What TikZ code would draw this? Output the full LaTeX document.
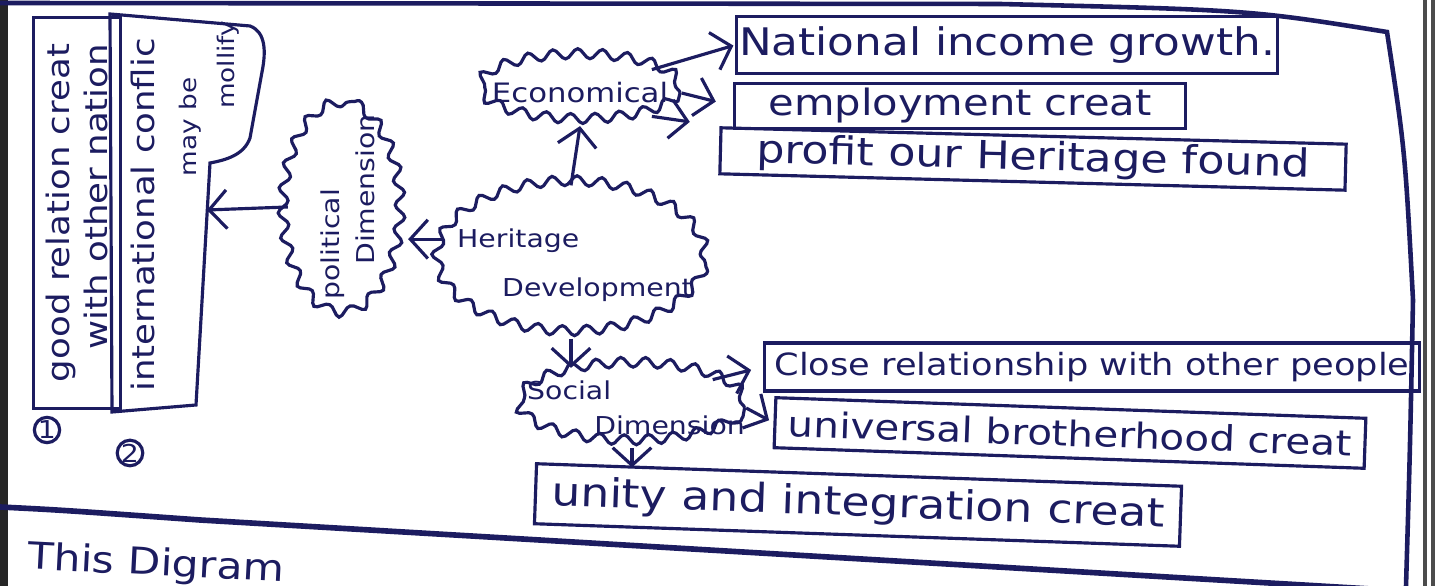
\documentclass[tikz,border=0pt]{standalone}
\usepackage{fontspec}
\setmainfont{DejaVu Sans}[FakeStretch=1.15]
\usepackage{tikz}
\usetikzlibrary{shapes,arrows.meta,decorations.pathmorphing}
\definecolor{ink}{RGB}{28,28,96}
\tikzstyle{cloudy}=[draw,ellipse,line width=0.9pt,inner sep=0pt,decorate,decoration={snake,segment length=7pt,amplitude=1.4pt}]
\tikzstyle{cloudtext}=[inner sep=0pt,align=left]
\tikzstyle{itembox}=[draw,rectangle,line width=0.9pt,inner sep=0pt]
\tikzstyle{link}=[line width=0.9pt,-{Straight Barb[length=5pt,width=11pt]}]
\tikzstyle{numring}=[draw,circle,line width=0.9pt,inner sep=0pt,minimum size=0.25cm,font=\fontsize{7}{8}\selectfont]
\newcommand{\marker}[3]{
  \node[numring] (#1) at (#2) {#3};
}

\begin{document}
\begin{tikzpicture}[x=0.01cm,y=-0.01cm,color=ink]
\useasboundingbox[fill=white] (0,0) rectangle (1439,586);

% page edges and frame
\draw[line width=2pt,black!85] (4,0) -- (4,586);
\draw[line width=1pt,black!70] (1425,0) -- (1425,586);
\draw[line width=1pt,black!70] (1433,0) -- (1433,586);
\draw[line width=1.3pt] (0,3) -- (1000,4) .. controls (1250,10) .. (1387,32)
  .. controls (1405,150) .. (1413,300) .. controls (1410,450) .. (1406,586);
\draw[line width=1.6pt] (0,507) .. controls (60,510) .. (200,520) -- (1439,593);

% left column
\node[itembox,rotate=90,minimum width=3.9cm,minimum height=0.87cm,align=right,
  font=\fontsize{8.8}{11}\selectfont] (goodrel) at (77,213) {good relation creat\\with other nation};
\draw[line width=0.9pt] (110,14) -- (250,26) .. controls (266,32) and (266,52) .. (262,72)
  -- (250,138) .. controls (244,155) and (226,160) .. (210,163) -- (196,405) -- (112,412) -- cycle;
\coordinate (conflictedge) at (207,210);
\node[rotate=90,font=\fontsize{8.8}{11}\selectfont] (conflict) at (143,215) {international conflic};
\node[rotate=90,font=\fontsize{6.5}{8}\selectfont] (maybe) at (190,127) {may be};
\node[rotate=90,font=\fontsize{6.5}{8}\selectfont] (mollify) at (228,65) {mollify};
\marker{one}{47,430}{1}
\marker{two}{130,453}{2}

% clouds
\node[cloudy,rotate=90,minimum width=2.1cm,minimum height=1.17cm] (political) at (348,207) {};
\node[cloudtext,rotate=90,font=\fontsize{7}{10}\selectfont] (politicaltext) at (political) {political\\\hspace{0.35cm}Dimension};
\node[cloudy,minimum width=2.68cm,minimum height=1.5cm] (heritage) at (571,262) {};
\node[cloudtext,font=\fontsize{7}{14}\selectfont] (heritagetext) at (575,265) {Heritage\\\hspace{0.45cm}Development};
\node[cloudy,minimum width=2cm,minimum height=0.63cm] (econ) at (580,93) {};
\node[cloudtext,font=\fontsize{7.6}{10}\selectfont] (econtext) at (econ) {Economical};
\node[cloudy,minimum width=2.25cm,minimum height=0.77cm] (social) at (632,408) {};
\node[cloudtext,font=\fontsize{7}{10}\selectfont] (socialtext) at (636,408) {Social\\\hspace{0.67cm}Dimension};

% boxes
\node[itembox,minimum width=5.4cm,minimum height=0.57cm,font=\fontsize{10.8}{13}\selectfont] (natl) at (1007,45) {National income growth.};
\node[itembox,minimum width=4.5cm,minimum height=0.45cm,font=\fontsize{10.3}{12}\selectfont] (employ) at (960,106) {employment creat};
\node[itembox,rotate=-1.5,minimum width=6.25cm,minimum height=0.46cm,font=\fontsize{11}{13}\selectfont] (profit) at (1033,159) {profit our Heritage found};
\node[itembox,minimum width=6.55cm,minimum height=0.48cm,font=\fontsize{8.7}{10}\selectfont] (close) at (1092,367) {Close relationship with other people};
\node[itembox,rotate=-2,minimum width=5.9cm,minimum height=0.5cm,font=\fontsize{10}{12}\selectfont] (univ) at (1070,433) {universal brotherhood creat};
\node[itembox,rotate=-2,minimum width=6.45cm,minimum height=0.6cm,font=\fontsize{11.3}{13}\selectfont] (unity) at (858,505) {unity and integration creat};

% arrows
\draw[link] (heritage.north) -- (econ.south);
\draw[link] (heritage.170) -- (political.south |- heritage.170);
\draw[link] (political.north) -- (conflictedge);
\draw[link,shorten >=0.02cm] (econ.north east) -- (natl.west);
\draw[link,shorten >=0.18cm] (econ.east) -- (employ.west);
\draw[link,shorten >=0.3cm] (econ.south east) -- (profit.north west);
\draw[link] (heritage.south) -- (heritage.south |- social.north);
\draw[link,shorten >=0.12cm] (social.north east) -- (close.west);
\draw[link,shorten >=0.05cm] (social.east) -- (univ.west);
\draw[link,shorten >=0.06cm] (social.south) -- (social.south |- unity.north);

\node[rotate=-3,anchor=base west,font=\fontsize{10.5}{12}\selectfont] (caption) at (15,568) {This Digram};
\end{tikzpicture}
\end{document}
